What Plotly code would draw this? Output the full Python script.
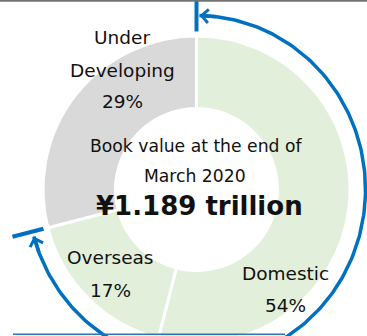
import numpy as np
import plotly.graph_objects as go

# ---- data -------------------------------------------------------------
segments = ["Domestic", "Overseas", "Under Developing"]
shares = [54, 17, 29]                      # percent of book value
segment_colors = ["#E2EFDA", "#E2EFDA", "#D9D9D9"]

# label lines for each segment (name lines + percentage)
segment_name_lines = [["Domestic"], ["Overseas"], ["Under", "Developing"]]

center_caption = ["Book value at the end of", "March 2020"]
center_total = "¥1.189 trillion"

# ---- canvas / geometry (pixel units) ---------------------------------
W, H = 367, 343
cx, cy = 196.5, 189.5          # donut centre
r_out = 153.5                  # donut outer radius
r_in = 81.0                    # donut hole radius
arc_rx, arc_ry = 169.0, 174.0  # bracket arc around the operating assets
BLUE = "#0070C0"
FONT = "DejaVu Sans"
TEXT = "#111111"


def ellipse_pt(deg, rx, ry):
    """Point on an ellipse around the donut centre, angle clockwise from 12 o'clock."""
    t = np.radians(deg)
    return cx + rx * np.sin(t), cy - ry * np.cos(t)


fig = go.Figure()

# donut
fig.add_trace(go.Pie(
    labels=segments,
    values=shares,
    sort=False,
    direction="clockwise",
    rotation=0,
    hole=r_in / r_out,
    marker=dict(colors=segment_colors, line=dict(color="white", width=3)),
    textinfo="none",
    hoverinfo="label+percent",
    showlegend=False,
    domain=dict(
        x=[(cx - r_out) / W, (cx + r_out) / W],
        y=[max(0.0, (H - cy - r_out) / H), (H - cy + r_out) / H],
    ),
))

# bracket arc spanning Domestic + Overseas
total = sum(shares)
end_deg = 360.0 * (shares[0] + shares[1]) / total
arc_deg = np.linspace(1.0, end_deg - 1.3, 240)
ax_pts, ay_pts = ellipse_pt(arc_deg, arc_rx, arc_ry)
fig.add_trace(go.Scatter(
    x=ax_pts, y=ay_pts, mode="lines",
    line=dict(color=BLUE, width=3.5),
    hoverinfo="skip", showlegend=False,
))

# radial end ticks of the bracket
for deg in (0.0, end_deg):
    t = np.radians(deg)
    rr = np.array([158.0, 190.0])
    fig.add_trace(go.Scatter(
        x=cx + rr * np.sin(t), y=cy - rr * np.cos(t), mode="lines",
        line=dict(color=BLUE, width=4),
        hoverinfo="skip", showlegend=False,
    ))

annotations = []

# arrowheads at both ends of the bracket
for tip_deg, tail_deg in ((1.0, 7.0), (end_deg - 1.3, end_deg - 7.3)):
    hx, hy = ellipse_pt(tip_deg, arc_rx, arc_ry)
    tx, ty = ellipse_pt(tail_deg, arc_rx, arc_ry)
    annotations.append(dict(
        x=hx, y=hy, xref="x", yref="y", text="",
        showarrow=True, arrowhead=4, arrowsize=0.75, arrowwidth=3.5,
        arrowcolor=BLUE, ax=tx - hx, ay=ty - hy, axref="pixel", ayref="pixel",
        standoff=0, startstandoff=0,
    ))


def add_text(x, y, s, size, bold=False):
    annotations.append(dict(
        x=x, y=y, xref="x", yref="y", text=f"<b>{s}</b>" if bold else s,
        showarrow=False, xanchor="center", yanchor="middle",
        font=dict(family=FONT, size=size, color=TEXT),
    ))


# segment labels
label_pos = [
    (285.5, [273.5, 305.5]),          # Domestic
    (110.5, [257.5, 290.5]),          # Overseas
    (122.0, [37.0, 70.5, 101.5]),     # Under Developing
]
for names, share, (lx, ys) in zip(segment_name_lines, shares, label_pos):
    lines = names + [f"{share}%"]
    for line, ly in zip(lines, ys):
        add_text(lx, ly, line, 18.5)

# centre text
add_text(195.5, 145.5, center_caption[0], 17.2)
add_text(194.5, 175.5, center_caption[1], 17.2)
add_text(199.5, 206.0, center_total, 26, bold=True)

fig.update_layout(
    width=W, height=H,
    margin=dict(l=0, r=0, t=0, b=0, pad=0),
    paper_bgcolor="white", plot_bgcolor="rgba(0,0,0,0)",
    xaxis=dict(range=[0, W], visible=False, fixedrange=True),
    yaxis=dict(range=[H, 0], visible=False, fixedrange=True),
    annotations=annotations,
    shapes=[
        # frame edges
        dict(type="line", xref="x", yref="y", x0=0, x1=W, y0=0.8, y1=0.8,
             line=dict(color="#737373", width=2), layer="above"),
        dict(type="line", xref="x", yref="y", x0=13, x1=285, y0=334.3, y1=334.3,
             line=dict(color="#2E75B6", width=1.6), layer="above"),
    ],
)

fig.write_html("out.html")
